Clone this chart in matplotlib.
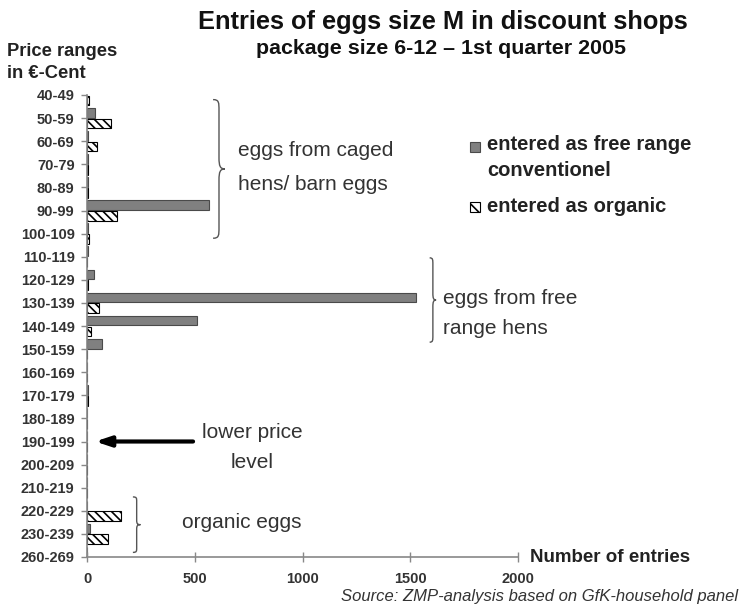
import matplotlib
matplotlib.use('Agg')
import matplotlib.pyplot as plt
from matplotlib.path import Path
from matplotlib.patches import PathPatch, Rectangle
import numpy as np

plt.rcParams['font.family'] = ['Liberation Sans', 'DejaVu Sans']
plt.rcParams['hatch.linewidth'] = 1.2

price_ranges = ['40-49', '50-59', '60-69', '70-79', '80-89', '90-99', '100-109',
                '110-119', '120-129', '130-139', '140-149', '150-159', '160-169',
                '170-179', '180-189', '190-199', '200-209', '210-219', '220-229',
                '230-239', '260-269']
free_range = [0, 37, 4, 6, 4, 566, 3, 3, 34, 1525, 510, 70, 0, 3, 0, 0, 0, 0, 0, 12, 0]
organic = [10, 111, 45, 5, 4, 139, 8, 2, 6, 56, 18, 0, 0, 3, 0, 0, 0, 0, 157, 97, 0]
x_ticks = [0, 500, 1000, 1500, 2000]

W, H = 743, 612
HATCH = '\\\\\\\\'


def fx(x):
    return x / W


def fy(y):
    return 1 - y / H


def brace(ax, x, y0, y1, w):
    # right pointing curly brace, x/w in data units
    pts = [(0, 0), (0.5, 0), (0.5, 0.02), (0.5, 0.08),
           (0.5, 0.42),
           (0.5, 0.48), (0.6, 0.5), (1.0, 0.5),
           (0.6, 0.5), (0.5, 0.52), (0.5, 0.58),
           (0.5, 0.92),
           (0.5, 0.98), (0.5, 1.0), (0, 1.0)]
    codes = [Path.MOVETO] + [Path.CURVE4] * 3 + [Path.LINETO] + [Path.CURVE4] * 6 \
        + [Path.LINETO] + [Path.CURVE4] * 3
    verts = [(x + u * w, y0 + v * (y1 - y0)) for u, v in pts]
    ax.add_patch(PathPatch(Path(verts, codes), fc='none', ec='#555555', lw=1.0,
                           clip_on=False))


fig = plt.figure(figsize=(W / 100, H / 100), dpi=100)
ax = fig.add_axes([fx(87), fy(557), fx(518) - fx(87), fy(95) - fy(557)])

pos = np.arange(len(price_ranges))
ax.barh(pos - 0.235, free_range, height=0.42, color='#808080', edgecolor='#4a4a4a',
        linewidth=0.8)
ax.barh(pos + 0.235, organic, height=0.42, color='white', edgecolor='black',
        hatch=HATCH, linewidth=0.8)

ax.set_ylim(len(price_ranges) - 1, 0)
ax.set_xlim(0, 2000)
ax.set_yticks(pos)
ax.set_yticklabels(price_ranges, fontsize=10.5, fontweight='bold', color='#333333')
ax.set_xticks(x_ticks)
ax.set_xticklabels([str(t) for t in x_ticks], fontsize=10.5, fontweight='bold',
                   color='#333333')
for s in ['top', 'right']:
    ax.spines[s].set_visible(False)
for s in ['left', 'bottom']:
    ax.spines[s].set_color('#888888')
    ax.spines[s].set_linewidth(1.2)
ax.tick_params(axis='y', length=4, width=1, color='#888888', pad=5)
ax.tick_params(axis='x', direction='inout', length=7, width=1, color='#888888', pad=7)

# braces and group labels
brace(ax, 585, 0.2, 6.2, 55)
brace(ax, 1590, 7.05, 10.7, 30)
brace(ax, 213, 17.4, 19.8, 35)
ax.annotate('', xy=(25, 15), xytext=(505, 15),
            arrowprops=dict(arrowstyle='-|>,head_length=0.9,head_width=0.3',
                            lw=3, color='black'), annotation_clip=False)

lab = dict(fontsize=15, color='#333333', va='center')
fig.text(fx(238), fy(151), 'eggs from caged', **lab)
fig.text(fx(238), fy(184), 'hens/ barn eggs', **lab)
fig.text(fx(443), fy(298), 'eggs from free', **lab)
fig.text(fx(443), fy(329), 'range hens', **lab)
fig.text(fx(252), fy(432), 'lower price', ha='center', **lab)
fig.text(fx(252), fy(462), 'level', ha='center', **lab)
fig.text(fx(182), fy(523), 'organic eggs', **lab)

# legend drawn by hand
fig.patches.append(Rectangle((fx(470), fy(152)), 10 / W, 10 / H, fc='#808080',
                             ec='#4a4a4a', lw=0.8, transform=fig.transFigure))
fig.patches.append(Rectangle((fx(470), fy(212)), 10 / W, 10 / H, fc='white',
                             ec='black', hatch='\\\\\\', lw=0.8,
                             transform=fig.transFigure))
leg = dict(fontsize=14.5, fontweight='bold', color='#222222', va='center')
fig.text(fx(487), fy(145), 'entered as free range', **leg)
fig.text(fx(487), fy(170), 'conventionel', **leg)
fig.text(fx(487), fy(207), 'entered as organic', **leg)

fig.text(fx(443), fy(22), 'Entries of eggs size M in discount shops', fontsize=18.3,
         fontweight='bold', ha='center', va='center', color='#111111')
fig.text(fx(441), fy(48), 'package size 6-12 \u2013 1st quarter 2005', fontsize=15.4,
         fontweight='bold', ha='center', va='center', color='#111111')
fig.text(fx(7), fy(51), 'Price ranges', fontsize=13.2, fontweight='bold',
         va='center', color='#222222')
fig.text(fx(7), fy(73), 'in \u20ac-Cent', fontsize=13.2, fontweight='bold',
         va='center', color='#222222')
fig.text(fx(530), fy(557), 'Number of entries', fontsize=13.5, fontweight='bold',
         va='center', color='#222222')
fig.text(fx(738), fy(596), 'Source: ZMP-analysis based on GfK-household panel',
         fontsize=12, style='italic', ha='right', va='center', color='#333333')

plt.savefig('out.png', dpi=100)
